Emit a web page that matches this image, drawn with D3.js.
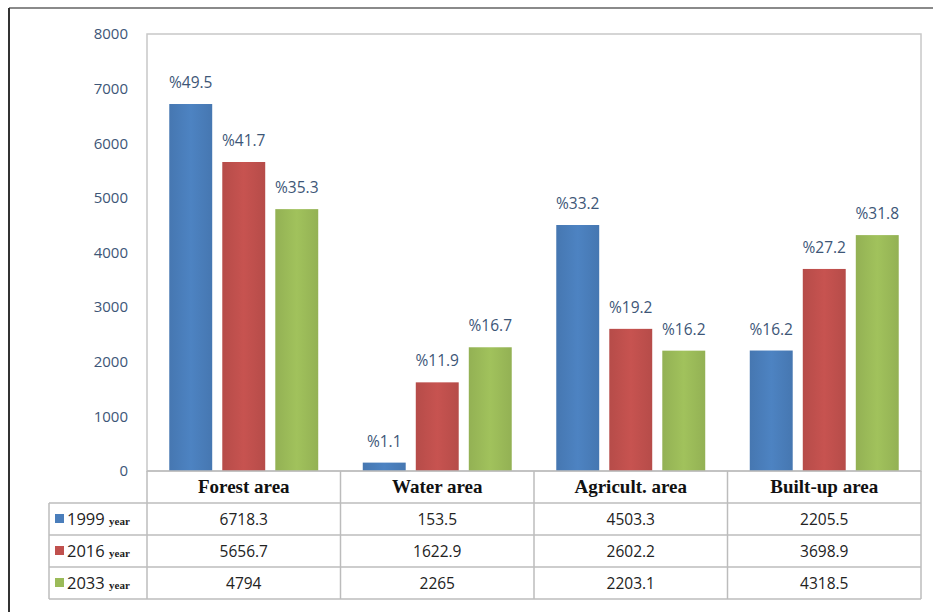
<!DOCTYPE html>
<html>
<head>
<meta charset="utf-8">
<script src="https://cdn.jsdelivr.net/npm/d3@7"></script>
<style>
  body { margin: 0; background: #fff; }
  svg { display: block; }
</style>
</head>
<body>
<script>
// ---- data ----
const categories = ['Forest area', 'Water area', 'Agricult. area', 'Built-up area'];
const years = ['1999', '2016', '2033'];
const values1999 = [6718.3, 153.5, 4503.3, 2205.5];
const values2016 = [5656.7, 1622.9, 2602.2, 3698.9];
const values2033 = [4794, 2265, 2203.1, 4318.5];
const pct1999 = ['%49.5', '%1.1', '%33.2', '%16.2'];
const pct2016 = ['%41.7', '%11.9', '%19.2', '%27.2'];
const pct2033 = ['%35.3', '%16.7', '%16.2', '%31.8'];
const yTicks = [0, 1000, 2000, 3000, 4000, 5000, 6000, 7000, 8000];
const colors = ['#4a7ebb', '#c0504d', '#9bbb59'];

const series = [values1999, values2016, values2033];
const pcts = [pct1999, pct2016, pct2033];

const W = 933, H = 612;
const plot = {left: 147, right: 921, top: 34, bottom: 471};
const tableLeft = 49;
const headerH = 32, rowH = 32;

const svg = d3.select('body').append('svg')
    .attr('width', W)
    .attr('height', H);

// gradients, excel-ish
const defs = svg.append('defs');
colors.forEach((c, i) => {
  const g = defs.append('linearGradient')
      .attr('id', 'grad' + i)
      .attr('x1', 0).attr('x2', 1).attr('y1', 0).attr('y2', 0);
  g.append('stop').attr('offset', '0%').attr('stop-color', d3.color(c).darker(0.15));
  g.append('stop').attr('offset', '50%').attr('stop-color', d3.color(c).brighter(0.1));
  g.append('stop').attr('offset', '100%').attr('stop-color', d3.color(c).darker(0.15));
});

// outer frame
svg.append('line')
    .attr('x1', 9).attr('x2', W).attr('y1', 8).attr('y2', 8)
    .attr('stroke', '#8a8a8a').attr('stroke-width', 2);
svg.append('line')
    .attr('x1', 9).attr('x2', 9).attr('y1', 8).attr('y2', H)
    .attr('stroke', '#333').attr('stroke-width', 2);

// scales
const x = d3.scaleBand()
    .domain(categories)
    .range([plot.left, plot.right]);

const xInner = d3.scaleBand()
    .domain(years)
    .range([0, x.bandwidth()])
    .paddingInner(0.19)
    .paddingOuter(0.42);

const y = d3.scaleLinear()
    .domain([0, 8000])
    .range([plot.bottom, plot.top]);

// plot border
svg.append('rect')
    .attr('x', plot.left).attr('y', plot.top)
    .attr('width', plot.right - plot.left)
    .attr('height', plot.bottom - plot.top)
    .attr('fill', 'none')
    .attr('stroke', '#c8c8c8')
    .attr('stroke-width', 1.5);

// y axis labels
const yAxis = d3.axisLeft(y)
    .tickValues(yTicks)
    .tickFormat(d3.format('d'))
    .tickSize(0)
    .tickPadding(19);

svg.append('g')
    .attr('transform', `translate(${plot.left},0)`)
    .call(yAxis)
    .call(g => g.select('.domain').remove())
    .selectAll('text')
    .attr('font-family', 'Open Sans, sans-serif')
    .attr('font-size', 15)
    .attr('fill', '#3d5677');

// bars
const groups = svg.append('g')
    .selectAll('g')
    .data(categories)
    .join('g')
    .attr('transform', d => `translate(${x(d)},0)`);

groups.selectAll('rect')
    .data((d, ci) => years.map((yr, si) => ({yr, si, v: series[si][ci], p: pcts[si][ci]})))
    .join('rect')
    .attr('x', d => xInner(d.yr))
    .attr('width', xInner.bandwidth())
    .attr('y', d => y(d.v))
    .attr('height', d => y(0) - y(d.v))
    .attr('fill', d => `url(#grad${d.si})`);

groups.selectAll('text')
    .data((d, ci) => years.map((yr, si) => ({yr, si, v: series[si][ci], p: pcts[si][ci]})))
    .join('text')
    .attr('x', d => xInner(d.yr) + xInner.bandwidth() / 2)
    .attr('y', d => y(d.v) - 16)
    .attr('text-anchor', 'middle')
    .attr('font-family', 'Open Sans, sans-serif')
    .attr('font-size', 15.5)
    .attr('fill', '#3d5677')
    .text(d => d.p);

// data table
const table = svg.append('g');
const gridColor = '#bcbcbc';
const tTop = plot.bottom;
const tBottom = tTop + headerH + rowH * years.length;

// horizontal lines
table.append('line')
    .attr('x1', plot.left).attr('x2', plot.right)
    .attr('y1', tTop).attr('y2', tTop)
    .attr('stroke', gridColor).attr('stroke-width', 1.5);
d3.range(years.length + 1).forEach(i => {
  const yy = tTop + headerH + i * rowH;
  table.append('line')
      .attr('x1', tableLeft).attr('x2', plot.right)
      .attr('y1', yy).attr('y2', yy)
      .attr('stroke', gridColor).attr('stroke-width', 1.5);
});
// vertical lines
table.append('line')
    .attr('x1', tableLeft).attr('x2', tableLeft)
    .attr('y1', tTop + headerH).attr('y2', tBottom)
    .attr('stroke', gridColor).attr('stroke-width', 1.5);
categories.concat(['end']).forEach((c, i) => {
  const xx = i < categories.length ? x(c) : plot.right;
  table.append('line')
      .attr('x1', xx).attr('x2', xx)
      .attr('y1', tTop).attr('y2', tBottom)
      .attr('stroke', gridColor).attr('stroke-width', 1.5);
});

// headers
table.selectAll('.hdr')
    .data(categories)
    .join('text')
    .attr('class', 'hdr')
    .attr('x', d => x(d) + x.bandwidth() / 2)
    .attr('y', tTop + headerH / 2 + 6)
    .attr('text-anchor', 'middle')
    .attr('font-family', 'Liberation Serif, serif')
    .attr('font-weight', 'bold')
    .attr('font-size', 19)
    .attr('fill', '#111')
    .text(d => d);

// rows
years.forEach((yr, si) => {
  const cy = tTop + headerH + si * rowH + rowH / 2;
  table.append('rect')
      .attr('x', tableLeft + 6).attr('y', cy - 5)
      .attr('width', 9).attr('height', 9)
      .attr('fill', colors[si]);
  const lbl = table.append('text')
      .attr('x', tableLeft + 18).attr('y', cy + 6)
      .attr('fill', '#222');
  lbl.append('tspan')
      .attr('font-family', 'Open Sans, sans-serif')
      .attr('font-size', 16.5)
      .text(yr + ' ');
  lbl.append('tspan')
      .attr('font-family', 'Liberation Serif, serif')
      .attr('font-weight', 'bold')
      .attr('font-size', 11)
      .text('year');

  table.selectAll('.v' + si)
      .data(categories)
      .join('text')
      .attr('x', d => x(d) + x.bandwidth() / 2)
      .attr('y', cy + 6)
      .attr('text-anchor', 'middle')
      .attr('font-family', 'Open Sans, sans-serif')
      .attr('font-size', 15.5)
      .attr('fill', '#222')
      .text((d, ci) => series[si][ci]);
});
</script>
</body>
</html>
